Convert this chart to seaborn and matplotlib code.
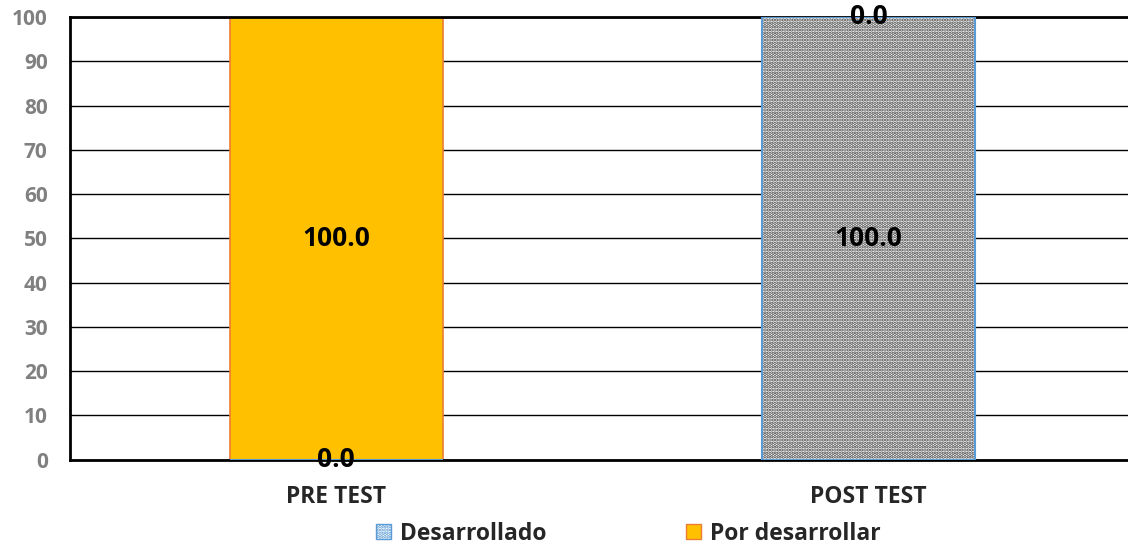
import numpy as np
import pandas as pd
import matplotlib
matplotlib.use("Agg")
import matplotlib.pyplot as plt
from matplotlib.patches import Patch
import seaborn as sns

# datos
categorias = ["PRE TEST", "POST TEST"]
desarrollado = [0.0, 100.0]
por_desarrollar = [100.0, 0.0]
series = ["Desarrollado", "Por desarrollar"]

df = pd.DataFrame({"grupo": categorias,
                   "Desarrollado": desarrollado,
                   "Por desarrollar": por_desarrollar})
df["total"] = df["Desarrollado"] + df["Por desarrollar"]

sns.set_style("white")
plt.rcParams['font.family'] = ['Open Sans', 'DejaVu Sans']
plt.rcParams['hatch.linewidth'] = 1.7
plt.rcParams['hatch.color'] = '#404040'

naranja = "#FFC000"
fig = plt.figure(figsize=(11.28, 5.48), dpi=100)
ax = fig.add_axes([0.062, 0.161, 0.944, 0.808])

# capa superior (Por desarrollar) apilada sobre Desarrollado
sns.barplot(data=df, x="grupo", y="total", color=naranja, saturation=1,
            width=0.4, edgecolor="#ED7D31", linewidth=1.2, ax=ax, zorder=2)
# capa inferior con trama de puntos
sns.barplot(data=df, x="grupo", y="Desarrollado", color="white", saturation=1,
            width=0.4, hatch=".....", edgecolor="#404040", linewidth=0,
            ax=ax, zorder=3)
sns.barplot(data=df, x="grupo", y="Desarrollado", fill=False,
            width=0.4, edgecolor="#5B9BD5", linewidth=1.5, ax=ax, zorder=4)

# etiquetas de datos
for i, cat in enumerate(categorias):
    d = df.loc[i, "Desarrollado"]
    p = df.loc[i, "Por desarrollar"]
    ax.text(i, d / 2, f"{d:.1f}", ha="center", va="center",
            fontsize=19, fontweight="bold", color="black", zorder=6)
    ax.text(i, d + p / 2, f"{p:.1f}", ha="center", va="center",
            fontsize=19, fontweight="bold", color="black", zorder=6)

ax.set_ylim(0, 100)
ax.set_xlim(-0.5, 1.5)
ax.set_yticks(np.arange(0, 101, 10))
ax.yaxis.grid(True, color="black", linewidth=1)
ax.set_axisbelow(True)
ax.set_xlabel("")
ax.set_ylabel("")
ax.tick_params(axis="y", labelsize=15, labelcolor="#808080", length=0, pad=16)
ax.tick_params(axis="x", labelsize=16.5, length=0, pad=18)
for lab in ax.get_yticklabels():
    lab.set_fontweight("bold")
for lab in ax.get_xticklabels():
    lab.set_fontweight("bold")

for s in ["left", "bottom", "top"]:
    ax.spines[s].set_color("black")
    ax.spines[s].set_linewidth(2)
ax.spines["right"].set_visible(False)

handles = [Patch(facecolor="white", hatch=".....", edgecolor="#5B9BD5", linewidth=1),
           Patch(facecolor=naranja, edgecolor="#ED7D31", linewidth=1)]
fig.legend(handles, series, loc="center", bbox_to_anchor=(0.557, 0.026), ncol=2,
           frameon=False, handlelength=0.65, handleheight=0.65, handletextpad=0.4,
           columnspacing=6.1, prop={"size": 16.5, "weight": "bold"})

fig.savefig("out.png", dpi=100)
